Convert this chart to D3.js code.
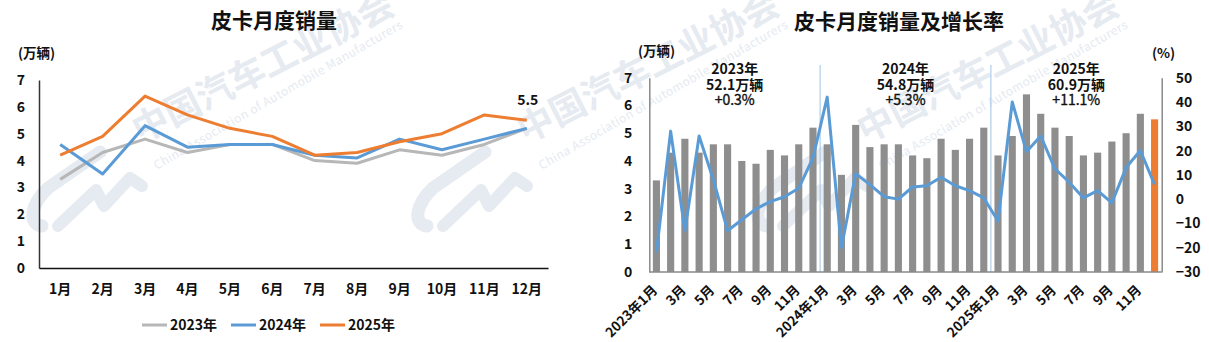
<!DOCTYPE html>
<html>
<head>
<meta charset="utf-8">
<script src="https://cdn.jsdelivr.net/npm/d3@7"></script>
<style>
  html, body { margin: 0; padding: 0; background: #fff; }
  svg { display: block; }
  text { font-family: "Noto Sans CJK SC", "Noto Sans", sans-serif; }
</style>
</head>
<body>
<svg id="chart" width="1209" height="342"></svg>
<script>
// Monthly pickup sales (10k units)
const months = ["1月","2月","3月","4月","5月","6月","7月","8月","9月","10月","11月","12月"];
const years = ["2023", "2024", "2025"];
const sales2023 = [3.3, 4.3, 4.8, 4.3, 4.6, 4.6, 4.0, 3.9, 4.4, 4.2, 4.6, 5.2];
const sales2024 = [4.6, 3.5, 5.3, 4.5, 4.6, 4.6, 4.2, 4.1, 4.8, 4.4, 4.8, 5.2];
const sales2025 = [4.2, 4.9, 6.4, 5.7, 5.2, 4.9, 4.2, 4.3, 4.7, 5.0, 5.7, 5.5];
// Year-on-year growth (%)
const growth2023 = [-22, 28, -13, 26, 8, -13, -8.5, -4, -1, 1, 4.5, 17];
const growth2024 = [42, -20, 10.5, 6, 1, 0, 5, 5.5, 9, 5.5, 3.5, 0.5];
const growth2025 = [-9, 40, 19.5, 26, 12.5, 7, 0.5, 3.5, -1.5, 13, 20, 6];
// Annual totals (10k units) and growth (%)
const yearTotals = [52.1, 54.8, 60.9];
const yearGrowth = [0.3, 5.3, 11.1];
// Axis ticks
const salesTicks = [0, 1, 2, 3, 4, 5, 6, 7];
const growthTicks = [-30, -20, -10, 0, 10, 20, 30, 40, 50];

const colors = { "2023": "#B7B7B7", "2024": "#5B9BD5", "2025": "#ED7D31" };
const barGray = "#8E8E8E";
const svg = d3.select("#chart");

// ---- watermark layer ----
const wm = svg.append("g").attr("class", "watermark");
const wmColor = "#E6EAF1";
[0, 385, 725].forEach(dx => {
  const g = wm.append("g").attr("transform", `translate(${dx},3)`);
  // logo strokes
  g.append("path")
    .attr("d", "M42,223 C28,221 30,202 48,185 L100,149")
    .attr("fill", "none").attr("stroke", wmColor).attr("stroke-width", 13).attr("stroke-linecap", "round");
  g.append("path")
    .attr("d", "M58,223 L96,187 L104,203 L130,175 L142,183")
    .attr("fill", "none").attr("stroke", wmColor).attr("stroke-width", 12)
    .attr("stroke-linejoin", "round").attr("stroke-linecap", "round");
  g.append("text")
    .attr("transform", "translate(263,64) rotate(-27)")
    .attr("text-anchor", "middle").attr("dy", "0.35em")
    .attr("font-size", 36).attr("font-weight", "bold")
    .attr("fill", wmColor)
    .text("中国汽车工业协会");
  g.append("text")
    .attr("transform", "translate(278,92) rotate(-30)")
    .attr("text-anchor", "middle").attr("dy", "0.35em")
    .attr("font-family", "'Open Sans', sans-serif")
    .attr("font-size", 12)
    .attr("fill", wmColor)
    .attr("textLength", 285).attr("lengthAdjust", "spacing")
    .text("China Association of Automobile Manufacturers");
});

// ---- left chart: monthly sales by year ----
const L = svg.append("g");
const xL = d3.scaleBand().domain(months).range([39, 548]);
const yL = d3.scaleLinear().domain([0, 7]).range([268, 80]);

L.append("text").attr("x", 274).attr("y", 28).attr("text-anchor", "middle")
  .attr("font-size", 21).attr("font-weight", "bold").attr("fill", "#111").text("皮卡月度销量");
L.append("text").attr("x", 18).attr("y", 58)
  .attr("font-size", 13.5).attr("font-weight", "bold").attr("fill", "#111").text("(万辆)");

const axL = L.append("g").attr("transform", "translate(39,0)")
  .call(d3.axisLeft(yL).tickValues(salesTicks).tickSize(0).tickPadding(14).tickFormat(d3.format("d")));
axL.select(".domain").attr("stroke", "#333").attr("stroke-width", 1.5);
axL.selectAll("text").attr("font-size", 14).attr("font-weight", "bold").attr("fill", "#111")
  .attr("font-family", "'Noto Sans CJK SC', sans-serif");

const axLB = L.append("g").attr("transform", "translate(0,268)")
  .call(d3.axisBottom(xL).tickSize(0).tickPadding(16));
axLB.select(".domain").attr("stroke", "#111").attr("stroke-width", 1.5);
axLB.selectAll("text").attr("font-size", 14).attr("font-weight", "bold").attr("fill", "#111")
  .attr("font-family", "'Noto Sans CJK SC', sans-serif");

const lineL = d3.line()
  .x((d, i) => xL(months[i]) + xL.bandwidth() / 2)
  .y(d => yL(d));
[[sales2023, "2023"], [sales2024, "2024"], [sales2025, "2025"]].forEach(([vals, yr]) => {
  L.append("path").datum(vals).attr("d", lineL)
    .attr("fill", "none").attr("stroke", colors[yr]).attr("stroke-width", 3)
    .attr("stroke-linejoin", "round");
});
// value label on the last point of 2025
L.append("text")
  .attr("x", xL(months[11]) + xL.bandwidth() / 2 + 1)
  .attr("y", yL(sales2025[11]) - 15)
  .attr("text-anchor", "middle").attr("font-size", 14).attr("font-weight", "bold").attr("fill", "#111")
  .text(sales2025[11].toFixed(1));

// legend
const legend = L.append("g");
years.forEach((yr, i) => {
  const lx = 142 + i * 89;
  legend.append("line").attr("x1", lx).attr("x2", lx + 25).attr("y1", 325).attr("y2", 325)
    .attr("stroke", colors[yr]).attr("stroke-width", 3);
  legend.append("text").attr("x", lx + 28).attr("y", 330)
    .attr("font-size", 14).attr("font-weight", "bold").attr("fill", "#111").text(yr + "年");
});

// ---- right chart: 36-month sales bars with growth line ----
const R = svg.append("g");
const allSales = sales2023.concat(sales2024, sales2025);
const allGrowth = growth2023.concat(growth2024, growth2025);
const idx = d3.range(allSales.length);
const xR = d3.scaleBand().domain(idx).range([649.3, 1161.7]).paddingInner(0.5).paddingOuter(0.25);
const stepR = xR.step();
const yR = d3.scaleLinear().domain([0, 7]).range([272, 77.7]);
const yG = d3.scaleLinear().domain([-30, 50]).range([272, 77.7]);

R.append("text").attr("x", 899).attr("y", 29).attr("text-anchor", "middle")
  .attr("font-size", 21).attr("font-weight", "bold").attr("fill", "#111").text("皮卡月度销量及增长率");
R.append("text").attr("x", 638).attr("y", 56)
  .attr("font-size", 13.5).attr("font-weight", "bold").attr("fill", "#111").text("(万辆)");
R.append("text").attr("x", 1152).attr("y", 58)
  .attr("font-size", 13.5).attr("font-weight", "bold").attr("fill", "#111").text("(%)");

// year separators
[12, 24].forEach(k => {
  const sx = xR(k) - stepR * 0.25;
  R.append("line").attr("x1", sx).attr("x2", sx).attr("y1", 65).attr("y2", 272)
    .attr("stroke", "#9DC3E6").attr("stroke-width", 1);
});

// bars
R.append("g").selectAll("rect").data(allSales).join("rect")
  .attr("x", (d, i) => xR(i))
  .attr("width", xR.bandwidth())
  .attr("y", d => yR(d))
  .attr("height", d => yR(0) - yR(d))
  .attr("fill", (d, i) => i === allSales.length - 1 ? colors["2025"] : barGray);

// axes
const axRL = R.append("g").attr("transform", "translate(649.3,0)")
  .call(d3.axisLeft(yR).tickValues(salesTicks).tickSize(0).tickPadding(17).tickFormat(d3.format("d")));
axRL.select(".domain").attr("stroke", "#8a8a8a").attr("stroke-width", 1.5);
const axRR = R.append("g").attr("transform", "translate(1161.7,0)")
  .call(d3.axisRight(yG).tickValues(growthTicks).tickSize(0).tickPadding(14).tickFormat(d3.format("d")));
axRR.select(".domain").attr("stroke", "#8a8a8a").attr("stroke-width", 1.5);
[axRL, axRR].forEach(a => a.selectAll("text").attr("font-size", 14).attr("font-weight", "bold")
  .attr("fill", "#111").attr("font-family", "'Noto Sans CJK SC', sans-serif"));
R.append("line").attr("x1", 649.3).attr("x2", 1161.7).attr("y1", 272).attr("y2", 272)
  .attr("stroke", "#8a8a8a").attr("stroke-width", 1.5);

// growth line
R.append("path").datum(allGrowth)
  .attr("d", d3.line().x((d, i) => xR(i) + xR.bandwidth() / 2).y(d => yG(d)))
  .attr("fill", "none").attr("stroke", colors["2024"]).attr("stroke-width", 3)
  .attr("stroke-linejoin", "round");

// rotated month labels, every other month
idx.filter(k => k % 2 === 0).forEach(k => {
  const m = k % 12;
  const label = m === 0 ? `${years[Math.floor(k / 12)]}年1月` : `${m + 1}月`;
  R.append("text")
    .attr("transform", `translate(${xR(k) + xR.bandwidth() / 2 + 2},291) rotate(-45)`)
    .attr("text-anchor", "end")
    .attr("font-size", 13.5).attr("font-weight", "bold").attr("fill", "#111")
    .text(label);
});

// annual summaries
years.forEach((yr, i) => {
  const cx = (xR(i * 12) + xR(i * 12 + 11) + xR.bandwidth()) / 2;
  const t = R.append("text").attr("text-anchor", "middle").attr("font-size", 14).attr("fill", "#111");
  t.append("tspan").attr("x", cx).attr("y", 74).attr("font-weight", "bold").text(yr + "年");
  t.append("tspan").attr("x", cx).attr("y", 89.5).attr("font-weight", "bold").text(yearTotals[i].toFixed(1) + "万辆");
  t.append("tspan").attr("x", cx).attr("y", 105)
    .attr("stroke", "#111").attr("stroke-width", 0.35)
    .text("+" + yearGrowth[i].toFixed(1) + "%");
});
</script>
</body>
</html>
